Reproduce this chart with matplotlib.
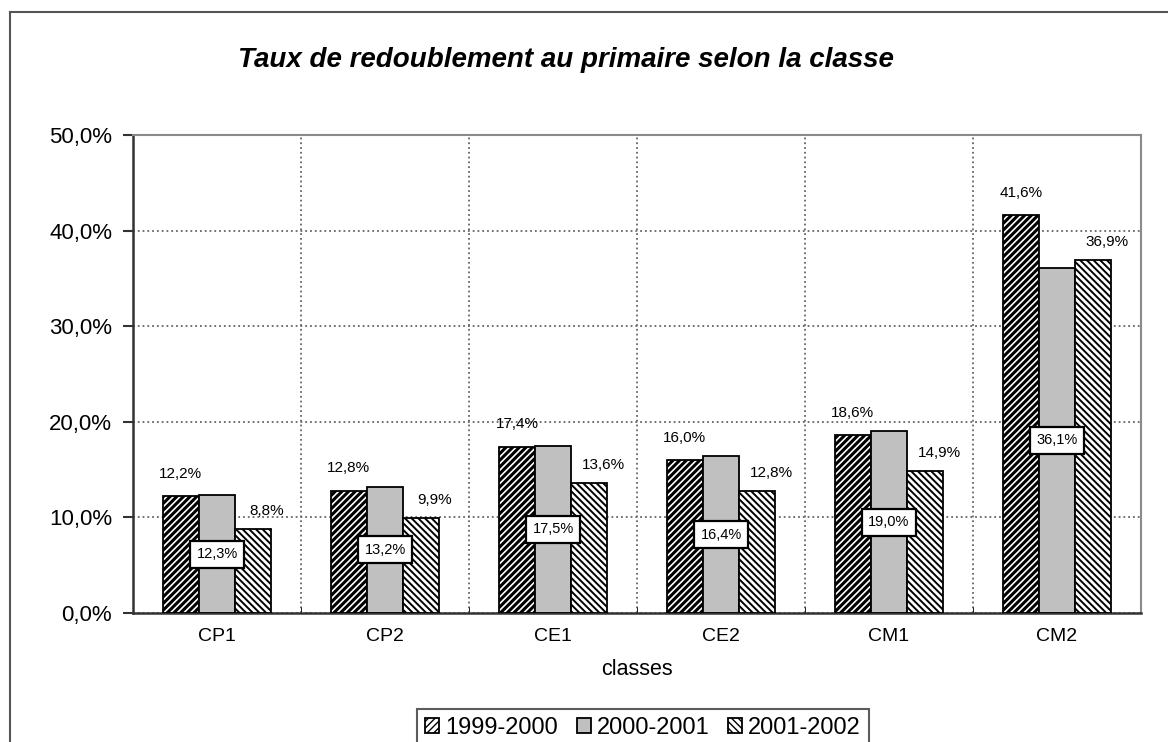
import matplotlib
matplotlib.use('Agg')
import matplotlib.pyplot as plt
import numpy as np
from matplotlib.lines import Line2D

plt.rcParams['font.family'] = ['Liberation Sans', 'DejaVu Sans']

classes = ['CP1', 'CP2', 'CE1', 'CE2', 'CM1', 'CM2']
series_names = ['1999-2000', '2000-2001', '2001-2002']
taux_1999 = [12.2, 12.8, 17.4, 16.0, 18.6, 41.6]
taux_2000 = [12.3, 13.2, 17.5, 16.4, 19.0, 36.1]
taux_2001 = [8.8, 9.9, 13.6, 12.8, 14.9, 36.9]
y_ticks = [0, 10, 20, 30, 40, 50]


def fmt(v):
    return f"{v:.1f}".replace('.', ',') + '%'


fig = plt.figure(figsize=(11.68, 7.42), dpi=100)
fig.patch.set_facecolor('white')

# outer frame (only top and left edges visible in the picture)
fig.add_artist(Line2D([10 / 1168, 10 / 1168], [0, 1 - 12 / 742],
                      transform=fig.transFigure, color='#555555', lw=1.5))
fig.add_artist(Line2D([10 / 1168, 1], [1 - 12 / 742, 1 - 12 / 742],
                      transform=fig.transFigure, color='#555555', lw=1.5))

ax = fig.add_axes([133 / 1168, (742 - 613) / 742, 1008 / 1168, (613 - 135) / 742])

x = np.arange(len(classes))
w = 0.215
hatches = ['/////', None, '\\\\\\\\\\']
fills = ['white', '#c0c0c0', 'white']
hatch_lw = [2.2, 1.0, 1.4]
data = [taux_1999, taux_2000, taux_2001]

for i, vals in enumerate(data):
    bars = ax.bar(x + (i - 1) * w, vals, w, color=fills[i], edgecolor='black',
                  linewidth=1.3, hatch=hatches[i], label=series_names[i], zorder=3)
    for b in bars:
        if hasattr(b, 'set_hatch_linewidth'):
            b.set_hatch_linewidth(hatch_lw[i])

for xi, v in zip(x - w, taux_1999):
    ax.annotate(fmt(v), (xi, v), xytext=(0, 16), textcoords='offset points',
                ha='center', va='center', fontsize=11, zorder=5)
for xi, v in zip(x, taux_2000):
    ax.text(xi, v / 2, fmt(v), ha='center', va='center', fontsize=10.5, zorder=6,
            bbox=dict(boxstyle='square,pad=0.45', facecolor='white',
                      edgecolor='black', linewidth=1.6))
for xi, v in zip(x + w, taux_2001):
    ax.annotate(fmt(v), (xi, v), xytext=(10, 13), textcoords='offset points',
                ha='center', va='center', fontsize=11, zorder=5)

ax.set_xlim(-0.5, len(classes) - 0.5)
ax.set_ylim(0, 50)
ax.set_yticks(y_ticks)
ax.set_yticklabels([f"{t:.1f}".replace('.', ',') + '%' for t in y_ticks], fontsize=16)
ax.set_xticks(x)
ax.set_xticklabels(classes, fontsize=14)
ax.set_xticks(np.arange(0.5, len(classes) - 0.5), minor=True)
ax.tick_params(axis='x', which='major', length=0, pad=11)
ax.tick_params(axis='x', which='minor', length=4, direction='in', color='black')
ax.tick_params(axis='y', length=7, width=1.5, color='#333333', pad=8)

ax.grid(axis='y', which='major', linestyle=':', color='#666666', linewidth=1.3, zorder=0)
ax.grid(axis='x', which='minor', linestyle=':', color='#666666', linewidth=1.3, zorder=0)

for s in ['left', 'bottom']:
    ax.spines[s].set_color('#333333')
    ax.spines[s].set_linewidth(1.8)
for s in ['top', 'right']:
    ax.spines[s].set_color('#8a8a8a')
    ax.spines[s].set_linewidth(1.5)

ax.set_xlabel('classes', fontsize=15.5, labelpad=10)
fig.text(566 / 1168, 1 - 60 / 742, 'Taux de redoublement au primaire selon la classe',
         ha='center', va='center', fontsize=20, fontweight='bold', fontstyle='italic')

leg = fig.legend(loc='upper center', bbox_to_anchor=(643 / 1168, 1 - 709 / 742),
                 ncol=3, fontsize=17, frameon=True, fancybox=False,
                 handlelength=0.6, handleheight=0.6, handletextpad=0.25,
                 columnspacing=0.8, borderpad=0.35, borderaxespad=0)
leg.get_frame().set_edgecolor('#333333')
leg.get_frame().set_linewidth(1.5)

fig.savefig('out.png', dpi=100)
